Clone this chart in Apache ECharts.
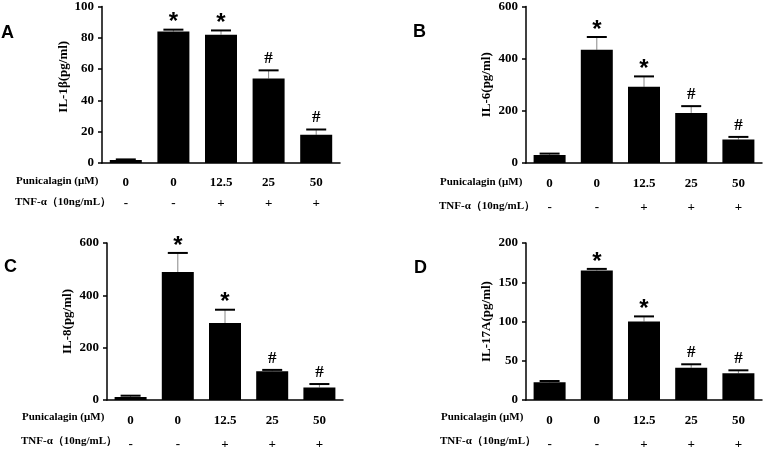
<!DOCTYPE html>
<html>
<head>
<meta charset="utf-8">
<script src="https://cdn.jsdelivr.net/npm/echarts@6/dist/echarts.min.js"></script>
<style>html,body{margin:0;padding:0;background:#fff}#c{width:764px;height:452px}</style>
</head>
<body>
<div id="c"></div>
<script>
// ---- data ----
var punicalagin = ['0', '0', '12.5', '25', '50'];
var tnf = ['-', '-', '+', '+', '+'];
var markers = ['', '*', '*', '#', '#'];

var il1bMean = [1.9, 84, 82, 54, 18];
var il1bErr  = [0.4, 1.2, 2.7, 5.2, 3.4];
var il6Mean  = [31, 434, 292, 192, 90];
var il6Err   = [5, 49, 40, 26, 10];
var il8Mean  = [11.5, 489, 294, 110, 48];
var il8Err   = [5, 73, 51, 5, 13];
var il17Mean = [22.5, 165, 100, 41, 34];
var il17Err  = [1.7, 2, 6.5, 4.5, 3.8];

var yTitles = ['IL-1β(pg/ml)', 'IL-6(pg/ml)', 'IL-8(pg/ml)', 'IL-17A(pg/ml)'];
var yMax = [100, 600, 600, 200];
var yInterval = [20, 200, 200, 50];
var panelLetters = ['A', 'B', 'C', 'D'];
var rowTitle1 = 'Punicalagin (μM)';
var rowTitle2 = 'TNF-α（10ng/mL）';

var means = [il1bMean, il6Mean, il8Mean, il17Mean];
var errs = [il1bErr, il6Err, il8Err, il17Err];

// ---- layout ----
var grids = [
  {left: 102, top: 6, width: 238, height: 157},
  {left: 526, top: 6, width: 236, height: 157},
  {left: 107, top: 243, width: 236, height: 157},
  {left: 526, top: 243, width: 236, height: 157}
];
var nameGaps = [29, 33, 33, 33];
var namePad = [[0, 0, 0, 16], [0, 0, 0, 0], [0, 0, 0, 0], [0, 0, 0, 0]];
var rowGap = [21, 24, 24, 24];
var rowTitleX = [16, 440, 22, 441];
var rowTitleY1 = [183, 184, 419, 419];
var letterPos = [[1, 34], [413, 33], [4, 268], [414, 269]];

var serif = '"Liberation Serif", "Times New Roman", serif';

var xAxes = [], yAxes = [], series = [], graphics = [];
for (var p = 0; p < 4; p++) {
  (function (p) {
    xAxes.push({
      type: 'category', gridIndex: p, data: punicalagin,
      axisLine: {lineStyle: {color: '#000', width: 1.5}},
      axisTick: {show: false},
      axisLabel: {
        margin: 9, interval: 0,
        formatter: function (v, i) { return '{a|' + punicalagin[i] + '}\n{a|' + tnf[i] + '}'; },
        rich: {a: {fontFamily: serif, fontWeight: 'bold', fontSize: 13, color: '#000', lineHeight: rowGap[p]}}
      }
    });
    yAxes.push({
      type: 'value', gridIndex: p, min: 0, max: yMax[p], interval: yInterval[p],
      name: yTitles[p], nameLocation: 'middle', nameGap: nameGaps[p],
      nameTextStyle: {fontFamily: serif, fontWeight: 'bold', fontSize: 13, color: '#000', padding: namePad[p]},
      axisLine: {show: true, lineStyle: {color: '#000', width: 1.5}},
      axisTick: {show: true, length: 4, lineStyle: {color: '#000', width: 1.5}},
      axisLabel: {margin: 8, fontFamily: serif, fontWeight: 'bold', fontSize: 13, color: '#000'},
      splitLine: {show: false}
    });
    series.push({
      type: 'bar', xAxisIndex: p, yAxisIndex: p, data: means[p],
      barWidth: 32, itemStyle: {color: '#000'}, silent: true, animation: false
    });
    var errData = means[p].map(function (m, i) { return [i, m, m + errs[p][i]]; });
    series.push({
      type: 'custom', xAxisIndex: p, yAxisIndex: p, data: errData, animation: false, silent: true,
      renderItem: function (params, api) {
        var i = api.value(0);
        var lo = api.coord([i, api.value(1)]);
        var hi = api.coord([i, api.value(2)]);
        var x = lo[0];
        var half = 10;
        var children = [
          {type: 'line', shape: {x1: x, y1: lo[1], x2: x, y2: hi[1]}, style: {stroke: '#888', lineWidth: 1}},
          {type: 'line', shape: {x1: x - half, y1: hi[1], x2: x + half, y2: hi[1]}, style: {stroke: '#000', lineWidth: 2}}
        ];
        var mk = markers[params.dataIndex];
        if (mk === '*') {
          children.push({type: 'text', style: {text: '*', x: x, y: hi[1] + 5, align: 'center', verticalAlign: 'bottom',
            font: 'bold 24px "Liberation Sans", Arial, sans-serif', fill: '#000'}});
        } else if (mk === '#') {
          children.push({type: 'text', style: {text: '#', x: x, y: hi[1] - 3, align: 'center', verticalAlign: 'bottom',
            font: 'bold 17px ' + serif, fill: '#000'}});
        }
        return {type: 'group', children: children};
      }
    });
    graphics.push({type: 'text', left: rowTitleX[p], top: rowTitleY1[p] - 7,
      style: {text: rowTitle1, font: 'bold 11px ' + serif, fill: '#000'}});
    graphics.push({type: 'text', left: rowTitleX[p] - 1, top: rowTitleY1[p] + rowGap[p] - 7,
      style: {text: rowTitle2, font: 'bold 11px ' + serif, fill: '#000'}});
    graphics.push({type: 'text', left: letterPos[p][0], top: letterPos[p][1] - 10,
      style: {text: panelLetters[p], font: 'bold 18px "Liberation Sans", Arial, sans-serif', fill: '#000'}});
  })(p);
}

var chart = echarts.init(document.getElementById('c'), null, {renderer: 'canvas'});
chart.setOption({
  animation: false,
  backgroundColor: '#fff',
  grid: grids,
  xAxis: xAxes,
  yAxis: yAxes,
  series: series,
  graphic: graphics
});
</script>
</body>
</html>
